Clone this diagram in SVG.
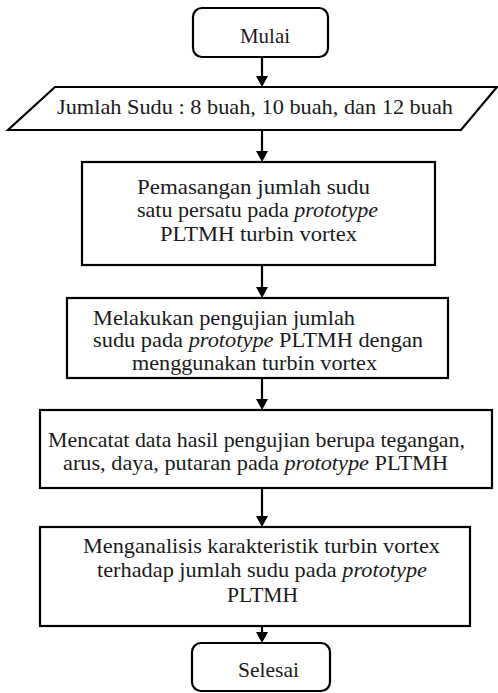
<svg xmlns="http://www.w3.org/2000/svg" width="498" height="693" viewBox="0 0 498 693">
<style>
.b{fill:#fff;stroke:#000;stroke-width:2.2}
.i{font-style:italic}
.c{stroke:#000;stroke-width:2.2;fill:none}
</style>
<g id="connectors">
<line class="c" x1="262" y1="57" x2="262" y2="77"/>
<path d="M256,76 L268,76 L262,87 Z"/>
<line class="c" x1="262" y1="130" x2="262" y2="152"/>
<path d="M256,151 L268,151 L262,162 Z"/>
<line class="c" x1="262" y1="265" x2="262" y2="288"/>
<path d="M256,287 L268,287 L262,298 Z"/>
<line class="c" x1="262" y1="378" x2="262" y2="400"/>
<path d="M256,399 L268,399 L262,410 Z"/>
<line class="c" x1="262" y1="488" x2="262" y2="517"/>
<path d="M256,516 L268,516 L262,527 Z"/>
<line class="c" x1="262" y1="626" x2="262" y2="633"/>
<path d="M256,632 L268,632 L262,643 Z"/>
</g>
<g id="mulai">
<rect class="b" x="193" y="8" width="135" height="49" rx="9"/>
<text font-family="Liberation Serif" font-size="21" fill="#1a1a1a" x="240" y="43" textLength="50" lengthAdjust="spacingAndGlyphs">Mulai</text>
</g>
<g id="input">
<polygon class="b" points="55,87 497,87 461,130 8,130"/>
<text font-family="Liberation Serif" font-size="21" fill="#1a1a1a" x="57" y="114" textLength="396" lengthAdjust="spacingAndGlyphs">Jumlah  Sudu : 8 buah, 10 buah, dan 12 buah</text>
</g>
<g id="box1">
<rect class="b" x="82" y="162" width="353" height="103"/>
<text font-family="Liberation Serif" font-size="21" fill="#1a1a1a" x="137" y="194" textLength="233" lengthAdjust="spacingAndGlyphs">Pemasangan  jumlah  sudu</text>
<text font-family="Liberation Serif" font-size="21" fill="#1a1a1a" x="137" y="217" textLength="241" lengthAdjust="spacingAndGlyphs">satu persatu pada <tspan class="i">prototype</tspan></text>
<text font-family="Liberation Serif" font-size="21" fill="#1a1a1a" x="160" y="241" textLength="197" lengthAdjust="spacingAndGlyphs">PLTMH  turbin vortex</text>
</g>
<g id="box2">
<rect class="b" x="67" y="298" width="381" height="80"/>
<text font-family="Liberation Serif" font-size="21" fill="#1a1a1a" x="93" y="325" textLength="262" lengthAdjust="spacingAndGlyphs">Melakukan  pengujian  jumlah</text>
<text font-family="Liberation Serif" font-size="21" fill="#1a1a1a" x="93" y="347" textLength="330" lengthAdjust="spacingAndGlyphs">sudu pada <tspan class="i">prototype</tspan> PLTMH  dengan</text>
<text font-family="Liberation Serif" font-size="21" fill="#1a1a1a" x="132" y="370" textLength="245" lengthAdjust="spacingAndGlyphs">menggunakan  turbin vortex</text>
</g>
<g id="box3">
<rect class="b" x="40" y="410" width="452" height="78"/>
<text font-family="Liberation Serif" font-size="21" fill="#1a1a1a" x="48" y="447" textLength="417" lengthAdjust="spacingAndGlyphs">Mencatat  data hasil pengujian  berupa tegangan,</text>
<text font-family="Liberation Serif" font-size="21" fill="#1a1a1a" x="63" y="470" textLength="385" lengthAdjust="spacingAndGlyphs">arus, daya, putaran pada <tspan class="i">prototype</tspan>  PLTMH</text>
</g>
<g id="box4">
<rect class="b" x="40" y="527" width="430" height="99"/>
<text font-family="Liberation Serif" font-size="21" fill="#1a1a1a" x="83" y="553" textLength="357" lengthAdjust="spacingAndGlyphs">Menganalisis  karakteristik  turbin vortex</text>
<text font-family="Liberation Serif" font-size="21" fill="#1a1a1a" x="97" y="577" textLength="330" lengthAdjust="spacingAndGlyphs">terhadap jumlah  sudu pada <tspan class="i">prototype</tspan></text>
<text font-family="Liberation Serif" font-size="21" fill="#1a1a1a" x="227" y="602" textLength="71" lengthAdjust="spacingAndGlyphs">PLTMH</text>
</g>
<g id="selesai">
<rect class="b" x="192" y="643" width="138" height="48" rx="9"/>
<text font-family="Liberation Serif" font-size="21" fill="#1a1a1a" x="238" y="677" textLength="61" lengthAdjust="spacingAndGlyphs">Selesai</text>
</g>
</svg>
